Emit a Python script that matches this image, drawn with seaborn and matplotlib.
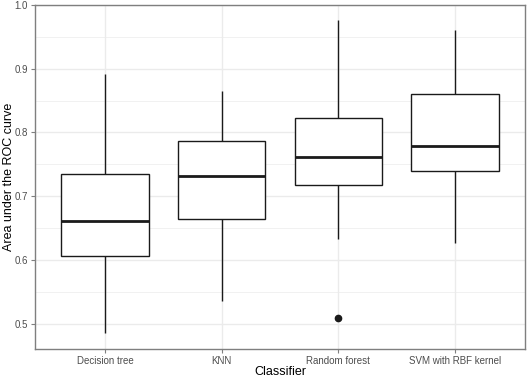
import matplotlib
matplotlib.use("Agg")
import matplotlib.pyplot as plt
from matplotlib.ticker import MultipleLocator
import pandas as pd
import seaborn as sns

# AUC values per classifier (chosen so quartiles/whiskers match the figure)
classifiers = ["Decision tree", "KNN", "Random forest", "SVM with RBF kernel"]
auc_tree = [0.485, 0.606, 0.661, 0.735, 0.892]
auc_knn = [0.536, 0.664, 0.731, 0.786, 0.865]
auc_rf = [0.508, 0.632, 0.717, 0.717, 0.762, 0.823, 0.823, 0.976, 0.976]
auc_svm = [0.627, 0.740, 0.778, 0.861, 0.961]

rows = []
for name, vals in zip(classifiers, [auc_tree, auc_knn, auc_rf, auc_svm]):
    for v in vals:
        rows.append({"Classifier": name, "AUC": v})
df = pd.DataFrame(rows)

sns.set_theme(style="white")
plt.rcParams["font.family"] = ["Liberation Sans", "DejaVu Sans"]

fig = plt.figure(figsize=(5.29, 3.78), dpi=100)
ax = fig.add_axes([0.066, 0.0767, 0.9264, 0.9101])

sns.boxplot(data=df, x="Classifier", y="AUC", order=classifiers, ax=ax,
            color="white", linecolor="#1a1a1a", linewidth=1.0, width=0.75,
            showcaps=False, whis=1.5,
            medianprops={"linewidth": 2.0, "color": "#1a1a1a"},
            flierprops={"marker": "o", "markersize": 4.5,
                        "markerfacecolor": "#1a1a1a", "markeredgecolor": "#1a1a1a"})

ax.set_xlim(-0.6, 3.6)
ax.set_ylim(0.46, 1.0)
ax.yaxis.set_major_locator(MultipleLocator(0.1))
ax.yaxis.set_minor_locator(MultipleLocator(0.05))
ax.set_axisbelow(True)
ax.grid(True, which="major", color="#ebebeb", linewidth=1.0)
ax.grid(True, which="minor", axis="y", color="#ebebeb", linewidth=0.5)

for s in ax.spines.values():
    s.set_color("#7f7f7f")
    s.set_linewidth(1.0)

ax.tick_params(axis="both", which="major", length=3, width=0.8, color="#7f7f7f",
               labelsize=7, labelcolor="#4d4d4d", pad=2, left=True, bottom=True)
ax.tick_params(axis="y", which="minor", length=0)

ax.set_xlabel("Classifier", fontsize=9, color="black")
ax.set_ylabel("Area under the ROC curve", fontsize=9, color="black")
ax.xaxis.set_label_coords(0.5, -0.05)
ax.yaxis.set_label_coords(-0.04, 0.5)

fig.savefig("out.png", dpi=100)
